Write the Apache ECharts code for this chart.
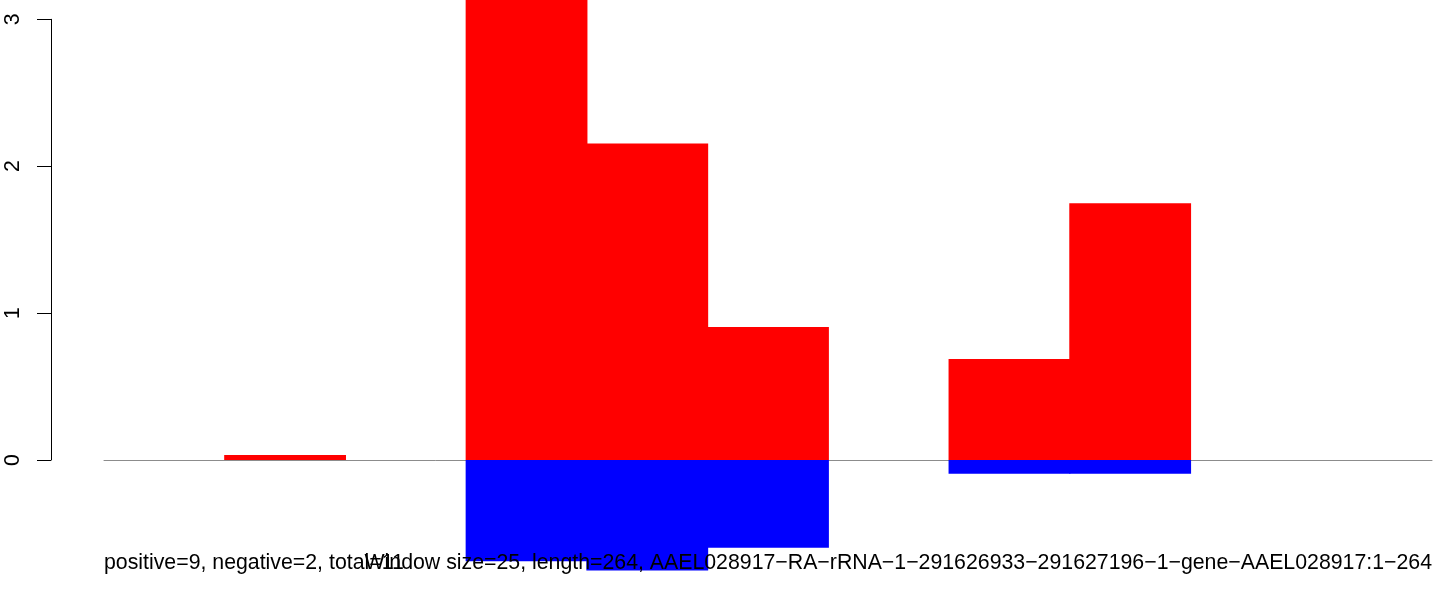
<!DOCTYPE html>
<html>
<head>
<meta charset="utf-8">
<script src="https://cdn.jsdelivr.net/npm/echarts@6/dist/echarts.min.js"></script>
<style>
html,body{margin:0;padding:0;background:#fff;}
#c{width:1444px;height:592px;}
</style>
</head>
<body>
<div id="c"></div>
<script>
// bins of 24 nt along the 264 nt sequence (null = no bar)
const bins = ['1','2','3','4','5','6','7','8','9','10','11'];
const positiveValues = [null, 0.034, null, 3.3, 2.155, 0.905, null, 0.687, 1.748, null, null];
const negativeValues = [null, null, null, -0.69, -0.753, -0.597, null, -0.093, -0.093, null, null];
const yTicks = [0, 1, 2, 3];
const leftText = 'positive=9, negative=2, total=11';
const rightText = 'Window size=25, length=264, AAEL028917\u2212RA\u2212rRNA\u22121\u2212291626933\u2212291627196\u22121\u2212gene\u2212AAEL028917:1\u2212264';

const FONT = '"Liberation Sans", Arial, Helvetica, sans-serif';
const FS = 21.3;
const chart = echarts.init(document.getElementById('c'), null, {renderer: 'canvas'});

chart.setOption({
  backgroundColor: '#ffffff',
  animation: false,
  grid: [
    {left: 51, top: 19.3, height: 440.7, width: 10, containLabel: false},
    {left: 104, right: 12, top: 0, bottom: 0, containLabel: false}
  ],
  xAxis: [
    {gridIndex: 0, type: 'value', show: false},
    {gridIndex: 1, type: 'category', data: bins, boundaryGap: true,
     axisLine: {show: true, onZero: true, lineStyle: {color: '#8c8c8c', width: 1}},
     axisTick: {show: false}, axisLabel: {show: false}, splitLine: {show: false}}
  ],
  yAxis: [
    {gridIndex: 0, type: 'value', min: yTicks[0], max: yTicks[yTicks.length - 1], interval: 1,
     axisLine: {show: true, lineStyle: {color: '#000', width: 1}},
     axisTick: {show: true, length: 14, lineStyle: {color: '#000', width: 1}},
     axisLabel: {show: true, rotate: 90, margin: 27, color: '#000', fontSize: FS, fontFamily: FONT},
     splitLine: {show: false}},
    {gridIndex: 1, type: 'value', min: -132 / 146.9, max: 460 / 146.9, show: false,
     splitLine: {show: false}}
  ],
  series: [
    {type: 'bar', xAxisIndex: 1, yAxisIndex: 1, data: positiveValues,
     barWidth: 121.8, barGap: '-100%',
     itemStyle: {color: '#ff0000'}, silent: true},
    {type: 'bar', xAxisIndex: 1, yAxisIndex: 1, data: negativeValues,
     barWidth: 121.8, barGap: '-100%',
     itemStyle: {color: '#0000ff'}, silent: true}
  ],
  graphic: [
    {type: 'text', left: 104, top: 553, z: 100,
     style: {text: leftText, fill: '#000', font: FS + 'px ' + FONT}},
    {type: 'text', right: 12, top: 553, z: 100,
     style: {text: rightText, fill: '#000', font: FS + 'px ' + FONT}}
  ]
});
</script>
</body>
</html>
